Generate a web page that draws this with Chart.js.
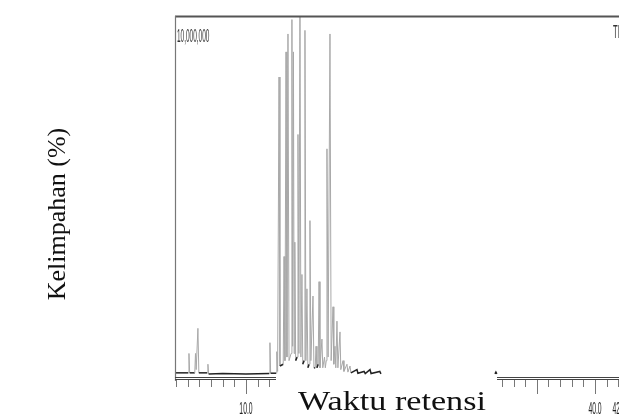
<!DOCTYPE html>
<html>
<head>
<meta charset="utf-8">
<script src="https://cdn.jsdelivr.net/npm/chart.js@4.4.1/dist/chart.umd.min.js"></script>
<style>
  html, body { margin: 0; padding: 0; background: #fff; }
  canvas { display: block; }
</style>
</head>
<body>
<canvas id="tic" width="619" height="415"></canvas>
<script>
// Retention time (min) and relative abundance (%).
// null = the faint tail of the baseline that did not survive the scan.
const retTimes = [
  3.90, 5.04, 5.10, 5.16, 5.60, 5.66, 5.72, 5.87, 5.95, 6.67, 6.73, 6.79, 8.00, 10.00,
  12.00, 12.06, 12.12, 12.59, 12.65, 12.72, 12.84, 12.92, 13.20, 13.27, 13.35, 13.44,
  13.52, 13.61, 13.70, 13.88, 13.95, 14.01, 14.08, 14.14, 14.20, 14.27, 14.40, 14.47,
  14.55, 14.64, 14.72, 14.81, 14.88, 15.00, 15.07, 15.15, 15.24, 15.32, 15.43, 15.50,
  15.58, 15.76, 15.84, 15.95, 16.02, 16.10, 16.21, 16.28, 16.36, 16.53, 16.60, 16.75,
  16.82, 16.90, 16.96, 17.06, 17.22, 17.32, 17.48, 17.55, 17.65, 17.72, 17.82, 17.90,
  18.08, 18.15, 18.34, 18.42, 18.68, 18.76, 18.94, 19.02, 19.54, 19.62, 20.15, 20.25,
  20.66, 20.75, 21.50, 21.60, 21.65, 31.40, 31.48, 31.56
];
const abundance = [
  0.6, 0.6, 6.0, 0.6, 0.6, 6.0, 1.5, 13.0, 0.6, 0.6, 3.0, 0.3, 0.4, 0.3,
  0.4, 9.0, 0.5, 0.5, 6.5, 1.0, 83, 2.5, 3, 33, 4, 90,
  5, 95, 4, 6, 99, 8, 90, 6, 37, 4, 5, 67,
  6, 108, 5, 28, 3, 4, 96, 4, 24, 2, 3, 43,
  4, 22, 2, 2, 8, 2, 3, 26, 2, 10, 2, 5,
  2, 4, 63, 5, 95, 4, 19, 3, 8, 2, 15, 2,
  12, 1.5, 4, 1, 3, 0.8, 2.5, 0.6, 1.5, 0.5, 1, 0.4,
  1.5, 0.4, 1, 0.3, null, 0.3, 0.8, 0.3
];

// Axis annotation
const minorTicks = [4, 5, 6, 7, 8, 9, 10, 11, 12, 13, 14, 15, 16, 17, 18, 19, 20, 21, 22, 23, 24, 25,
  26, 27, 28, 29, 30, 31, 32, 33, 34, 35, 36, 37, 38, 39, 40, 41, 42];
const majorTicks = [10, 15, 20, 25, 30, 35, 40];
const tickLabelValues = [10, 40, 42.06];
const tickLabels = ['10.0', '40.0', '42.0'];
const scaleLabel = '10,000,000';
const cornerLabel = 'TIC';
const xTitle = 'Waktu retensi';
const yTitle = 'Kelimpahan (%)';

// condensed text, like the squeezed labels of the instrument printout
function narrowText(ctx, text, x, y, sx, align) {
  ctx.save();
  ctx.translate(x, y);
  ctx.scale(sx, 1);
  ctx.textAlign = align;
  ctx.fillText(text, 0, 0);
  ctx.restore();
}

const frame = {
  id: 'frame',
  afterDraw(chart) {
    const {ctx, chartArea: a, scales: {x}} = chart;
    ctx.save();

    // top border + left border
    ctx.strokeStyle = '#555';
    ctx.lineWidth = 2;
    ctx.beginPath(); ctx.moveTo(a.left, 16.5); ctx.lineTo(a.right, 16.5); ctx.stroke();
    ctx.strokeStyle = '#777';
    ctx.lineWidth = 1.2;
    ctx.beginPath(); ctx.moveTo(a.left + 0.5, 16); ctx.lineTo(a.left + 0.5, 381); ctx.stroke();

    // double axis line and ticks
    ctx.strokeStyle = '#444';
    ctx.lineWidth = 1;
    [377.5, 379.5].forEach(y => {
      ctx.beginPath(); ctx.moveTo(a.left, y); ctx.lineTo(a.right, y); ctx.stroke();
    });
    ctx.strokeStyle = '#777';
    minorTicks.forEach(t => {
      const px = Math.round(x.getPixelForValue(t)) + 0.5;
      const len = majorTicks.includes(t) ? 14 : 7;
      ctx.beginPath(); ctx.moveTo(px, 380); ctx.lineTo(px, 380 + len); ctx.stroke();
    });

    ctx.fillStyle = '#222';
    ctx.font = '17px "Liberation Sans"';
    ctx.textBaseline = 'alphabetic';
    tickLabelValues.forEach((t, i) => {
      narrowText(ctx, tickLabels[i], x.getPixelForValue(t), 414, 0.4, 'center');
    });

    ctx.font = '19px "Liberation Sans"';
    ctx.fillStyle = '#333';
    narrowText(ctx, scaleLabel, a.left + 2, 42, 0.34, 'left');
    narrowText(ctx, cornerLabel, 613, 38, 0.4, 'left');

    // the pasted axis title covers the middle of the time axis
    ctx.fillStyle = '#fff';
    ctx.fillRect(276, 376, 221, 39);
    ctx.fillStyle = '#111';
    ctx.font = '28px "Liberation Serif"';
    narrowText(ctx, xTitle, 392, 410, 1.22, 'center');

    ctx.translate(65, 214);
    ctx.rotate(-Math.PI / 2);
    ctx.font = '26px "Liberation Serif"';
    ctx.textAlign = 'center';
    ctx.fillText(yTitle, 0, 0);
    ctx.restore();
  }
};

new Chart(document.getElementById('tic'), {
  type: 'line',
  data: {
    datasets: [{
      data: retTimes.map((t, i) => ({x: t, y: abundance[i]})),
      borderColor: '#999',
      borderWidth: 1,
      pointRadius: 0,
      tension: 0,
      spanGaps: false,
      segment: {
        // flat stretches of the trace print dark, steep peak flanks print faint
        borderColor: s => Math.abs(s.p1.parsed.y - s.p0.parsed.y) < 1.5 ? '#222' : '#a8a8a8',
        borderWidth: s => Math.abs(s.p1.parsed.y - s.p0.parsed.y) < 1.5 ? 1.5 : 1
      }
    }]
  },
  options: {
    responsive: false,
    animation: false,
    layout: {padding: {left: 175, top: 16, right: 0, bottom: 40}},
    plugins: {legend: {display: false}, tooltip: {enabled: false}},
    scales: {
      x: {type: 'linear', min: 3.9, max: 42.06, display: false},
      y: {min: 0, max: 100, display: false}
    }
  },
  plugins: [frame]
});
</script>
</body>
</html>
